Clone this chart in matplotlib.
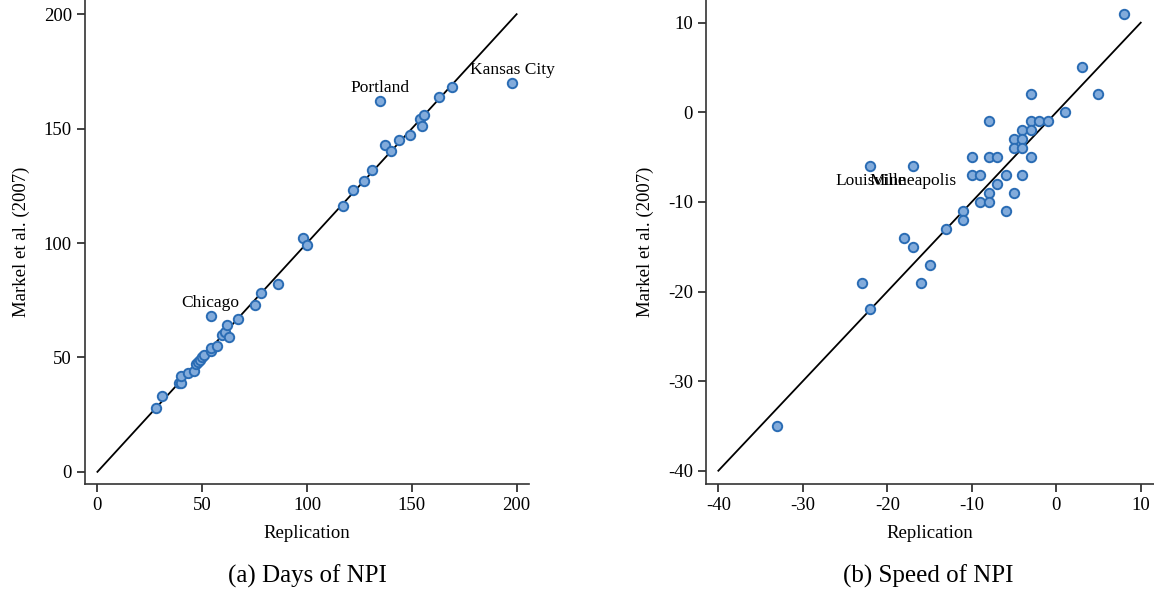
import numpy as np
import matplotlib
matplotlib.use("Agg")
import matplotlib.pyplot as plt

plt.rcParams['font.family'] = ['Liberation Serif', 'DejaVu Serif']
plt.rcParams['axes.unicode_minus'] = False

# (a) days of NPI: replication vs Markel et al. (2007)
days_rep = [28, 31, 39, 40, 40, 43, 46, 47, 48, 49, 50, 51, 54, 54, 57, 54,
            59.5, 61, 62, 63, 67, 75, 78, 86, 98, 100, 117, 122, 127, 131,
            137, 140, 144, 149, 154, 156, 155, 163, 169, 135, 198]
days_mkl = [28, 33, 39, 39, 42, 43, 44, 47, 48, 49, 50, 51, 53, 54, 55, 68,
            60, 61, 64, 59, 67, 73, 78, 82, 102, 99, 116, 123, 127, 132,
            143, 140, 145, 147, 154, 156, 151, 164, 168, 162, 170]
days_lab = {"Chicago": (54, 68), "Portland": (135, 162), "Kansas City": (198, 170)}

# (b) speed of NPI
speed_rep = [8, 3, 5, -3, 1, -8, -3, -2, -1, -4, -3, -5, -4, -5, -4, -10, -8,
             -7, -3, -22, -17, -10, -9, -6, -4, -7, -8, -5, -9, -8, -6, -11,
             -11, -13, -18, -17, -15, -23, -16, -22, -33]
speed_mkl = [11, 5, 2, 2, 0, -1, -1, -1, -1, -2, -2, -3, -3, -4, -4, -5, -5,
             -5, -5, -6, -6, -7, -7, -7, -7, -8, -9, -9, -10, -10, -11, -11,
             -12, -13, -14, -15, -17, -19, -19, -22, -35]
speed_lab = {"Louisville": (-22, -6), "Minneapolis": (-17, -6)}

fill = "#82abdb"
edge = "#2a6cb4"

fig = plt.figure(figsize=(11.54, 5.98), dpi=100)
ax1 = fig.add_axes([0.0737, 0.1911, 0.3847, 0.8089])
ax2 = fig.add_axes([0.6118, 0.1911, 0.3882, 0.8089])

def style(ax):
    for s in ["top", "right"]:
        ax.spines[s].set_visible(False)
    for s in ["left", "bottom"]:
        ax.spines[s].set_color("#333333")
        ax.spines[s].set_linewidth(1.2)
    ax.tick_params(direction="out", length=6, width=1.2, labelsize=13.5, color="#222222")
    ax.set_xlabel("Replication", fontsize=13.5, labelpad=8)
    ax.set_ylabel("Markel et al. (2007)", fontsize=13.5, labelpad=10)

# left panel
ax1.plot([0, 200], [0, 200], color="black", lw=1.3, zorder=1)
ax1.scatter(days_rep, days_mkl, s=46, c=fill, edgecolors=edge, linewidths=1.4, zorder=2)
for name, (x, y) in days_lab.items():
    ax1.annotate(name, (x, y), xytext=(0, 9.5), textcoords="offset points",
                 ha="center", va="center", fontsize=12.5)
ax1.set_xlim(-5.9, 205.9)
ax1.set_ylim(-5.2, 206.2)
ax1.set_xticks([0, 50, 100, 150, 200])
ax1.set_yticks([0, 50, 100, 150, 200])
style(ax1)

# right panel
ax2.plot([-40, 10], [-40, 10], color="black", lw=1.3, zorder=1)
ax2.scatter(speed_rep, speed_mkl, s=46, c=fill, edgecolors=edge, linewidths=1.4, zorder=2)
for name, (x, y) in speed_lab.items():
    ax2.annotate(name, (x, y), xytext=(0, -11), textcoords="offset points",
                 ha="center", va="center", fontsize=12.5)
ax2.set_xlim(-41.46, 11.57)
ax2.set_ylim(-41.45, 12.53)
ax2.set_xticks([-40, -30, -20, -10, 0, 10])
ax2.set_yticks([-40, -30, -20, -10, 0, 10])
style(ax2)

fig.text(0.266, 0.036, "(a) Days of NPI", ha="center", va="center", fontsize=18)
fig.text(0.804, 0.036, "(b) Speed of NPI", ha="center", va="center", fontsize=18)

fig.savefig("out.png", dpi=100)
